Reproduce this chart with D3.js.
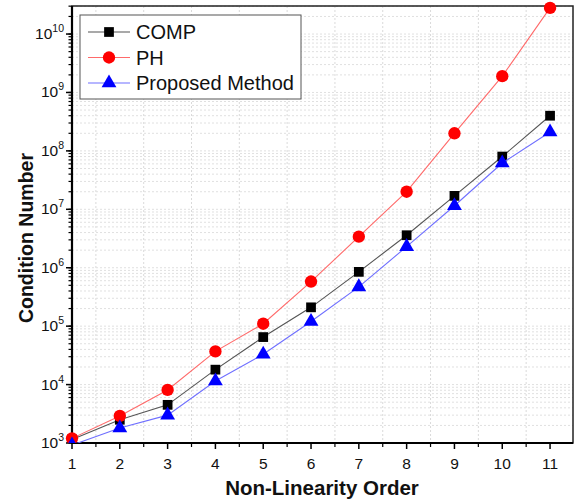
<!DOCTYPE html>
<html><head><meta charset="utf-8">
<script src="https://cdn.jsdelivr.net/npm/d3@7/dist/d3.min.js"></script>
<style>body{margin:0;background:#fff;}svg{display:block;font-family:"Liberation Sans",Arial,sans-serif;}</style>
</head><body><svg id="c" width="581" height="503"></svg>
<script>
const orders = [1,2,3,4,5,6,7,8,9,10,11];
const comp = [1.15e3, 2.5e3, 4.5e3, 1.8e4, 6.5e4, 2.1e5, 8.5e5, 3.6e6, 1.7e7, 8e7, 4e8];
const ph = [1.2e3, 2.9e3, 8.1e3, 3.7e4, 1.1e5, 5.8e5, 3.4e6, 2.0e7, 2.0e8, 1.9e9, 2.8e10];
const proposed = [9.2e2, 1.8e3, 3.0e3, 1.15e4, 3.3e4, 1.2e5, 4.7e5, 2.3e6, 1.15e7, 6.2e7, 2.1e8];
const seriesNames = ["COMP", "PH", "Proposed Method"];
const xTicks = [1,2,3,4,5,6,7,8,9,10,11];
const yExponents = [3,4,5,6,7,8,9,10];

const svg = d3.select("#c");
const L = 72, R = 573, T = 6, B = 443;
const x = d3.scaleLinear().domain([1, 11.48]).range([L, R]);
const y = d3.scaleLog().domain([1e3, Math.pow(10, 10.48)]).range([B, T]);

// grid
const g = svg.append("g");
const xHalf = d3.range(1.5, 11.5, 1);
g.selectAll("line.vg").data(xHalf).enter().append("line")
  .attr("x1", d => x(d)).attr("x2", d => x(d)).attr("y1", T).attr("y2", B)
  .attr("stroke", "#dadada").attr("stroke-width", 1).attr("stroke-dasharray", "2,2");
const yMinor = [];
for (let e = 3; e <= 10; e++) for (let m = 1; m <= 9; m++) { const v = m * Math.pow(10, e); if (v <= y.domain()[1]) yMinor.push(v); }
g.selectAll("line.hg").data(yMinor).enter().append("line")
  .attr("x1", L).attr("x2", R).attr("y1", d => y(d)).attr("y2", d => y(d))
  .attr("stroke", "#e0e0e0").attr("stroke-width", 1).attr("stroke-dasharray", "2,2");

// axes ticks
const ax = svg.append("g");
ax.selectAll("line.xt").data(xTicks).enter().append("line")
  .attr("x1", d => x(d)).attr("x2", d => x(d)).attr("y1", B).attr("y2", B + 6)
  .attr("stroke", "#000").attr("stroke-width", 1.5);
ax.selectAll("line.xm").data(xHalf).enter().append("line")
  .attr("x1", d => x(d)).attr("x2", d => x(d)).attr("y1", B).attr("y2", B + 4)
  .attr("stroke", "#000").attr("stroke-width", 1.2);
ax.selectAll("text.xl").data(xTicks).enter().append("text")
  .attr("x", d => x(d)).attr("y", 469).attr("text-anchor", "middle")
  .attr("font-size", 15.5).attr("fill", "#111").text(d => d);

ax.selectAll("line.ym").data(yMinor).enter().append("line")
  .attr("x1", L - 3.5).attr("x2", L).attr("y1", d => y(d)).attr("y2", d => y(d))
  .attr("stroke", "#000").attr("stroke-width", 1.2);
ax.selectAll("line.yt").data(yExponents).enter().append("line")
  .attr("x1", L - 6).attr("x2", L).attr("y1", d => y(Math.pow(10, d))).attr("y2", d => y(Math.pow(10, d)))
  .attr("stroke", "#000").attr("stroke-width", 1.5);
const yl = ax.selectAll("text.yl").data(yExponents).enter().append("text")
  .attr("x", 64).attr("y", d => y(Math.pow(10, d)) + 5).attr("text-anchor", "end")
  .attr("font-size", 15.5).attr("fill", "#111");
yl.append("tspan").text("10");
yl.append("tspan").attr("dy", -7).attr("font-size", 10.5).text(d => d);

// frame
svg.append("rect").attr("x", L).attr("y", T).attr("width", R - L).attr("height", B - T)
  .attr("fill", "none").attr("stroke", "#222").attr("stroke-width", 1.5);
svg.append("line").attr("x1", L).attr("x2", L).attr("y1", T).attr("y2", B + 1).attr("stroke", "#000").attr("stroke-width", 2.2);
svg.append("line").attr("x1", L - 1).attr("x2", R).attr("y1", B).attr("y2", B).attr("stroke", "#000").attr("stroke-width", 2.2);

// series
const series = [
  {name: seriesNames[0], vals: comp, line: "#555555", fill: "#000000", shape: d3.symbolSquare, size: 95},
  {name: seriesNames[1], vals: ph, line: "#ff6a6a", fill: "#ff0000", shape: d3.symbolCircle, size: 120},
  {name: seriesNames[2], vals: proposed, line: "#6f6fff", fill: "#0000ff", shape: d3.symbolTriangle, size: 95}
];
svg.append("clipPath").attr("id", "pc").append("rect").attr("x", L - 8).attr("y", T - 8).attr("width", R - L + 16).attr("height", B - T + 8);
const line = d3.line().x((d, i) => x(orders[i])).y(d => y(d));
series.forEach(s => {
  const sg = svg.append("g").attr("clip-path", "url(#pc)");
  sg.append("path").attr("d", line(s.vals)).attr("fill", "none").attr("stroke", s.line).attr("stroke-width", 1.1);
  sg.selectAll("path.m").data(s.vals).enter().append("path")
    .attr("transform", (d, i) => `translate(${x(orders[i])},${y(d)})`)
    .attr("d", d3.symbol().type(s.shape).size(s.size)).attr("fill", s.fill);
});

// legend
const lg = svg.append("g");
lg.append("rect").attr("x", 80).attr("y", 15).attr("width", 221).attr("height", 84)
  .attr("fill", "#fff").attr("stroke", "#555").attr("stroke-width", 1);
series.forEach((s, i) => {
  const cy = 32 + i * 25.5;
  lg.append("line").attr("x1", 88).attr("x2", 130).attr("y1", cy).attr("y2", cy).attr("stroke", s.line).attr("stroke-width", 1.1);
  lg.append("path").attr("transform", `translate(109,${cy})`).attr("d", d3.symbol().type(s.shape).size(s.size)).attr("fill", s.fill);
  lg.append("text").attr("x", 136).attr("y", cy + 7).attr("font-size", 20).attr("fill", "#111").text(s.name);
});

// titles
svg.append("text").attr("x", 322).attr("y", 495).attr("text-anchor", "middle")
  .attr("font-size", 20.5).attr("font-weight", "bold").attr("fill", "#111").text("Non-Linearity Order");
svg.append("text").attr("transform", "translate(33,238) rotate(-90)").attr("text-anchor", "middle")
  .attr("font-size", 19.5).attr("font-weight", "bold").attr("fill", "#111").text("Condition Number");
</script></body></html>
